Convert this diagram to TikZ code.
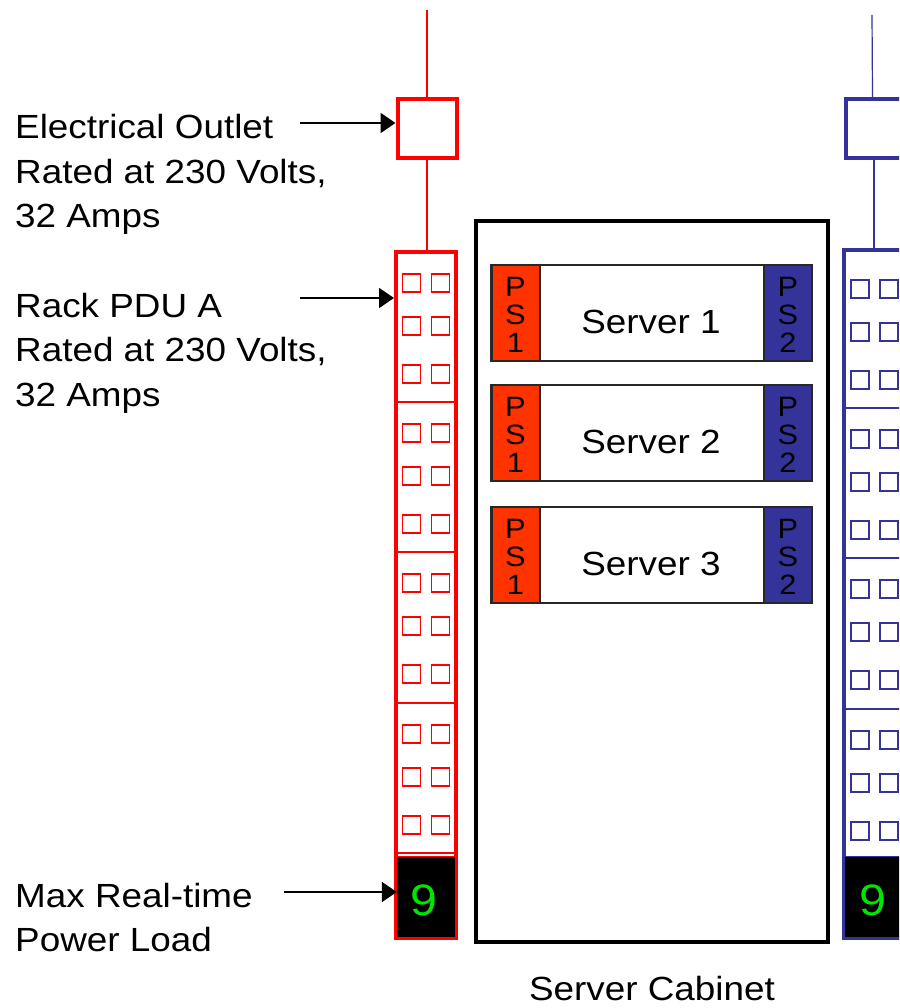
\documentclass[tikz,border=0pt]{standalone}
\usepackage{fontspec}
\setmainfont[FakeStretch=1.1]{Liberation Sans}
\usetikzlibrary{arrows.meta}
\definecolor{pdured}{RGB}{255,0,0}
\definecolor{psred}{RGB}{255,51,0}
\definecolor{pdublue}{RGB}{51,51,153}
\definecolor{digitgreen}{RGB}{0,230,0}
\definecolor{srvline}{RGB}{40,40,40}
\begin{document}
\begin{tikzpicture}[x=1pt,y=-1pt,
  lbl/.style={anchor=base west, inner sep=0pt, font=\fontsize{33.5}{44}\selectfont},
  midlbl/.style={anchor=base, inner sep=0pt, font=\fontsize{33.5}{44}\selectfont},
  pslbl/.style={anchor=base, inner sep=0pt, font=\fontsize{28}{28}\selectfont},
  digit/.style={anchor=base, inner sep=0pt, text=digitgreen, font=\fontsize{44}{44}\selectfont},
  outletbox/.style={draw=#1, line width=4pt, minimum width=59pt, minimum height=59pt, inner sep=0pt, fill=white},
  pdubox/.style={draw=#1, line width=4pt, minimum width=60pt, minimum height=686pt, inner sep=0pt},
  sock/.style={draw=#1, line width=1.2pt, minimum width=18pt, minimum height=18pt, inner sep=0pt},
  divider/.style={draw=#1, line width=1.5pt},
  cord/.style={draw=#1, line width=1.2pt},
  display/.style={fill=black, draw=none, minimum width=58pt, minimum height=80pt, inner sep=0pt},
  cabinet/.style={draw=black, line width=4pt, minimum width=352pt, minimum height=721pt, inner sep=0pt},
  server/.style={draw=srvline, line width=2pt, minimum width=321pt, minimum height=96pt, inner sep=0pt},
  psbox/.style={draw=srvline, line width=2pt, fill=#1, minimum width=48pt, minimum height=96pt, inner sep=0pt},
  pointer/.style={draw=black, line width=2pt, -{Triangle[length=15pt,width=20pt]}}
]
\useasboundingbox (0,0) rectangle (899,1008);
\clip (0,0) rectangle (899,1008);

% ---------------- Red side (PDU A) ----------------
\coordinate (cordAtop) at (427,10);
\node[outletbox=pdured] (outA) at (427,128.5) {};
\node[pdubox=pdured] (pduA) at (426,595) {};
\draw[cord=pdured] (cordAtop) -- (outA.north);
\draw[cord=pdured] (outA.south) -- (pduA.north -| outA.south);
\foreach \t [count=\k] in {252,402,552,703}{
  \foreach \r [count=\j] in {31,74,122}{
    \node[sock=pdured] (sA-\k-\j-l) at (411.5,\t+\r) {};
    \node[sock=pdured] (sA-\k-\j-r) at (440.5,\t+\r) {};
  }
}
\foreach \y [count=\k] in {402,552,703,853}{
  \coordinate (dAl\k) at (396,\y);
  \coordinate (dAr\k) at (456,\y);
  \draw[divider=pdured] (dAl\k) -- (dAr\k);
}
\node[display] (dispA) at (426,897) {};
\draw[pdured, line width=1pt] (dispA.south west) rectangle (dispA.north east);
\node[digit] (digA) at (424,915) {9};

% ---------------- Blue side (PDU B) ----------------
\coordinate (cordBtop) at (872,15);
\node[outletbox=pdublue] (outB) at (875,128.5) {};
\node[pdubox=pdublue, minimum height=688pt] (pduB) at (874,594) {};
\draw[cord=pdublue] (cordBtop) -- (872.5,97);
\draw[cord=pdublue] (outB.south -| 874,0) -- (874,248);
\foreach \t [count=\k] in {258,408,558,709}{
  \foreach \r [count=\j] in {31,74,122}{
    \node[sock=pdublue] (sB-\k-\j-l) at (860,\t+\r) {};
    \node[sock=pdublue] (sB-\k-\j-r) at (889,\t+\r) {};
  }
}
\foreach \y [count=\k] in {408,558,709}{
  \coordinate (dBl\k) at (844,\y);
  \coordinate (dBr\k) at (904,\y);
  \draw[divider=pdublue] (dBl\k) -- (dBr\k);
}
\node[display] (dispB) at (874,897) {};
\draw[pdublue, line width=1pt] (dispB.south west) rectangle (dispB.north east);
\node[digit] (digB) at (873,915) {9};

% ---------------- Server cabinet ----------------
\node[cabinet] (cab) at (652,581.5) {};
\foreach \c/\n in {313/1,433/2,555/3}{
  \node[server] (srv\n) at (651.5,\c) {};
  \node[psbox=psred] (psA\n) at (515.5,\c) {};
  \node[psbox=pdublue] (psB\n) at (788,\c) {};
  \node[pslbl] (psA\n p) at (515.5,\c-17) {P};
  \node[pslbl] (psA\n s) at (515.5,\c+11) {S};
  \node[pslbl] (psA\n n) at (515.5,\c+39) {1};
  \node[pslbl] (psB\n p) at (788,\c-17) {P};
  \node[pslbl] (psB\n s) at (788,\c+11) {S};
  \node[pslbl] (psB\n n) at (788,\c+39) {2};
  \node[midlbl] (srv\n t) at (651,\c+20) {Server \n};
}
\node[midlbl] (cabt) at (652,1000) {Server Cabinet};

% ---------------- Labels ----------------
\node[lbl] (l1a) at (15,139) {Electrical Outlet};
\node[lbl] (l1b) at (15,183.5) {Rated at 230 Volts,};
\node[lbl] (l1c) at (15,228) {32 Amps};
\node[lbl] (l2a) at (15,317) {Rack PDU A};
\node[lbl] (l2b) at (15,361.5) {Rated at 230 Volts,};
\node[lbl] (l2c) at (15,406) {32 Amps};
\node[lbl] (l3a) at (15,907) {Max Real-time};
\node[lbl] (l3b) at (15,951) {Power Load};

\coordinate (a1) at (300,123);
\coordinate (a2) at (300,298);
\coordinate (a3) at (284,892);
\draw[pointer] (a1) -- (a1 -| outA.west);
\draw[pointer] (a2) -- (a2 -| pduA.west);
\draw[pointer] (a3) -- (a3 -| dispA.west);
\end{tikzpicture}
\end{document}
